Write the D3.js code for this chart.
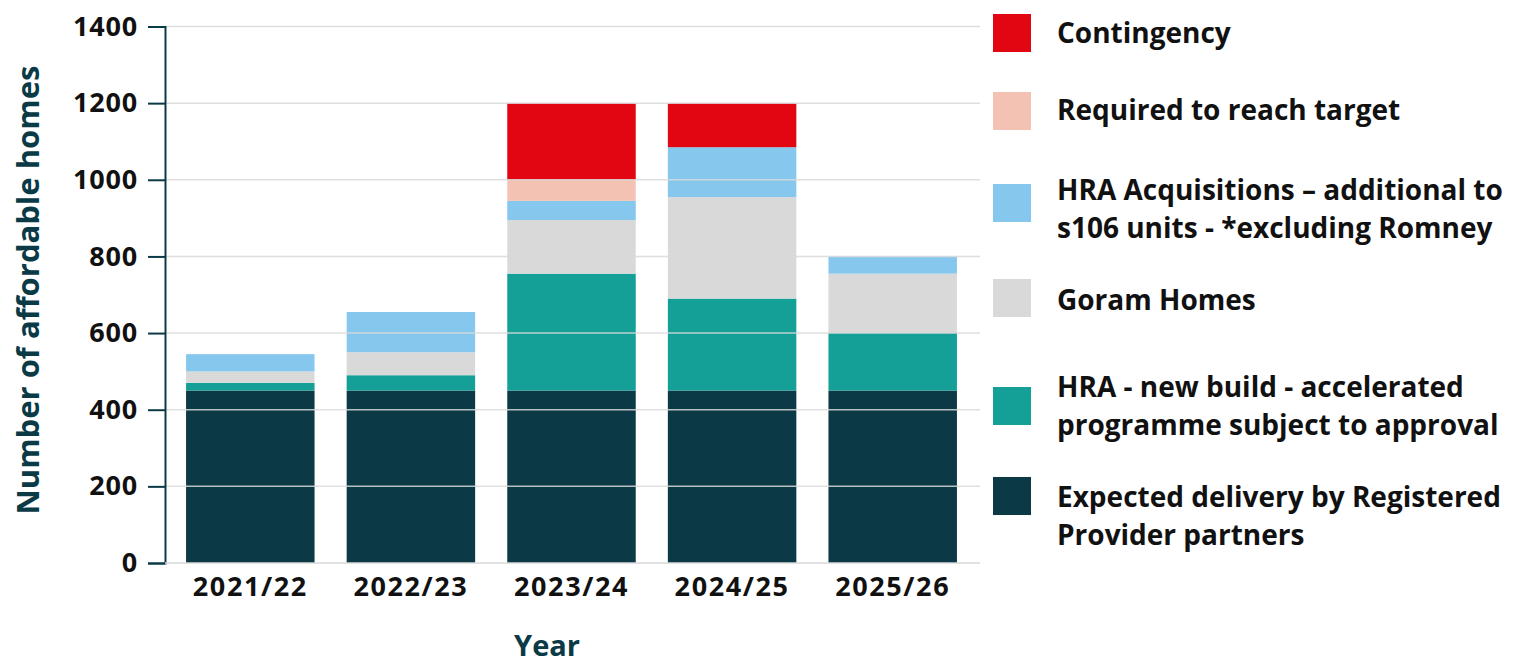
<!DOCTYPE html>
<html>
<head>
<meta charset="utf-8">
<script src="https://cdn.jsdelivr.net/npm/d3@7"></script>
<style>
  body { margin: 0; background: #fff; }
  svg text { font-family: "Open Sans", "Noto Sans", sans-serif; font-weight: 700; }
</style>
</head>
<body>
<svg id="chart" width="1521" height="664"></svg>
<script>
// Data, bottom of the stack first
var years = ["2021/22", "2022/23", "2023/24", "2024/25", "2025/26"];
var registeredProvider = [450, 450, 450, 450, 450];
var hraNewBuild = [20, 40, 305, 240, 150];
var goramHomes = [30, 60, 140, 265, 155];
var hraAcquisitions = [45, 105, 50, 130, 45];
var requiredToTarget = [0, 0, 55, 0, 0];
var contingency = [0, 0, 200, 115, 0];
var yTicks = [0, 200, 400, 600, 800, 1000, 1200, 1400];

var series = [
    { key: "rp", name: ["Expected delivery by Registered", "Provider partners"], color: "#0b3946", values: registeredProvider },
    { key: "nb", name: ["HRA - new build - accelerated", "programme subject to approval"], color: "#14a096", values: hraNewBuild },
    { key: "gh", name: ["Goram Homes"], color: "#d9d9da", values: goramHomes },
    { key: "acq", name: ["HRA Acquisitions \u2013 additional to", "s106 units - *excluding Romney"], color: "#86c7ee", values: hraAcquisitions },
    { key: "req", name: ["Required to reach target"], color: "#f3c2b3", values: requiredToTarget },
    { key: "cont", name: ["Contingency"], color: "#e20613", values: contingency }
];

var rows = years.map(function(y, i) {
    var row = { year: y };
    series.forEach(function(s) { row[s.key] = s.values[i]; });
    return row;
});

var svg = d3.select("#chart");
var axisColor = "#0b3a47";
var plot = { left: 165, right: 980, top: 26.5, bottom: 563 };

var x = d3.scaleBand()
    .domain(years)
    .range([170, 973])
    .paddingInner(0.2)
    .paddingOuter(0.1);

var y = d3.scaleLinear()
    .domain([0, 1400])
    .range([plot.bottom, plot.top]);

var stacked = d3.stack().keys(series.map(function(s) { return s.key; }))(rows);

// Bars
svg.append("g").selectAll("g")
    .data(stacked)
    .join("g")
    .attr("fill", function(d, i) { return series[i].color; })
    .selectAll("rect")
    .data(function(d) { return d; })
    .join("rect")
    .attr("x", function(d) { return x(d.data.year); })
    .attr("y", function(d) { return y(d[1]); })
    .attr("width", x.bandwidth())
    .attr("height", function(d) { return y(d[0]) - y(d[1]); });

// Gridlines sit on top of the bars
svg.append("g").selectAll("line")
    .data(yTicks.filter(function(t) { return t > 0; }))
    .join("line")
    .attr("x1", plot.left)
    .attr("x2", plot.right)
    .attr("y1", function(d) { return y(d); })
    .attr("y2", function(d) { return y(d); })
    .attr("stroke", "#d9d9d9")
    .attr("stroke-opacity", 0.85)
    .attr("stroke-width", 1.5);

// Y axis
var yAxis = svg.append("g")
    .attr("transform", "translate(" + plot.left + ",0)")
    .call(d3.axisLeft(y).tickValues(yTicks).tickFormat(d3.format("d")).tickSize(17).tickPadding(10));
yAxis.select(".domain").attr("stroke", axisColor).attr("stroke-width", 2);
yAxis.selectAll(".tick line").attr("stroke", axisColor).attr("stroke-width", 2);
yAxis.selectAll(".tick text")
    .attr("fill", "#111")
    .style("font-size", "27px")
    .style("letter-spacing", "0.8px");

// X axis
var xAxis = svg.append("g")
    .attr("transform", "translate(0," + plot.bottom + ")")
    .call(d3.axisBottom(x).tickSize(0).tickPadding(14));
xAxis.select(".domain")
    .attr("d", "M" + plot.left + ",0H" + plot.right)
    .attr("stroke", "#d9d9d9")
    .attr("stroke-width", 1.5);
xAxis.selectAll(".tick text")
    .attr("fill", "#111")
    .style("font-size", "27px")
    .style("letter-spacing", "1.6px");

// Axis titles
svg.append("text")
    .attr("x", 547)
    .attr("y", 656)
    .attr("text-anchor", "middle")
    .attr("fill", axisColor)
    .style("font-size", "29px")
    .text("Year");

svg.append("text")
    .attr("transform", "translate(39,290) rotate(-90)")
    .attr("text-anchor", "middle")
    .attr("fill", axisColor)
    .style("font-size", "31px")
    .text("Number of affordable homes");

// Legend, top to bottom
var legendTops = [14, 92, 184, 279, 387, 477];
var legendBaselines = [43, 120, 200, 310, 397, 507];
var legend = svg.append("g").selectAll("g")
    .data(series.slice().reverse())
    .join("g");

legend.append("rect")
    .attr("x", 993)
    .attr("y", function(d, i) { return legendTops[i]; })
    .attr("width", 38)
    .attr("height", 38)
    .attr("fill", function(d) { return d.color; });

legend.append("text")
    .attr("x", 1057)
    .attr("y", function(d, i) { return legendBaselines[i]; })
    .attr("fill", "#111")
    .style("font-size", "28px")
    .selectAll("tspan")
    .data(function(d) { return d.name; })
    .join("tspan")
    .attr("x", 1057)
    .attr("dy", function(d, i) { return i === 0 ? 0 : 38; })
    .text(function(d) { return d; });
</script>
</body>
</html>
